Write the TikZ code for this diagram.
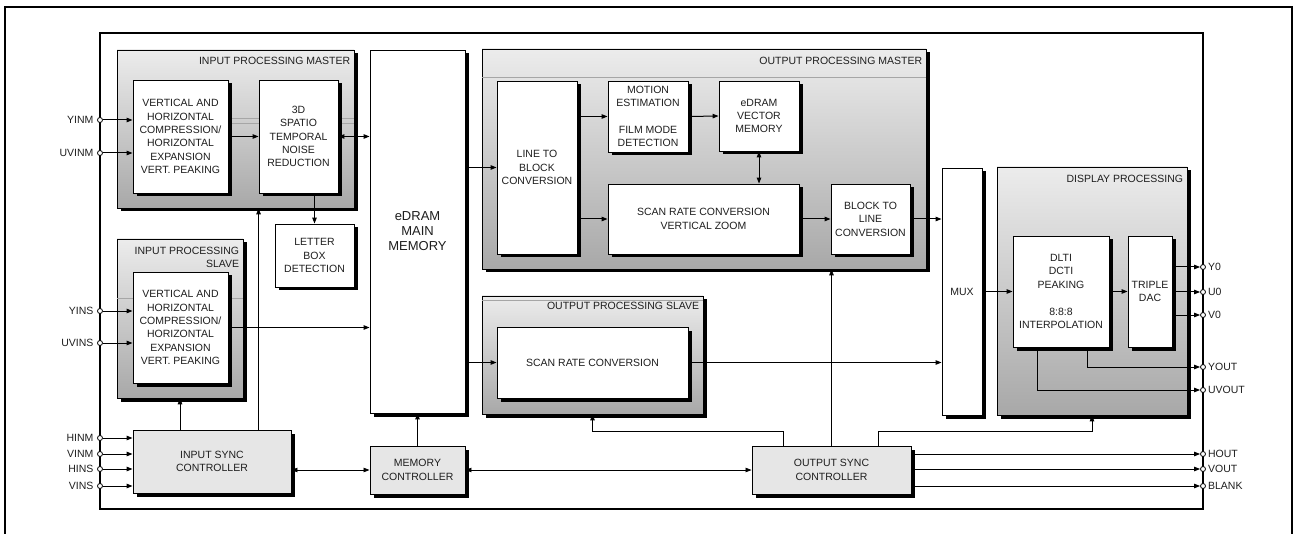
\documentclass[tikz,border=0pt]{standalone}
\usepackage{fontspec}
\setmainfont{Liberation Sans}
\usetikzlibrary{arrows.meta,shadows}
\definecolor{boxgray}{RGB}{230,230,230}
\definecolor{shadetop}{RGB}{236,236,236}
\definecolor{shadebot}{RGB}{168,168,168}
\definecolor{inkgray}{RGB}{30,30,30}

\begin{document}
\begin{tikzpicture}[x=1pt, y=-1pt,
  every node/.style={font=\fontsize{10.5}{13.4}\selectfont, text=inkgray},
  every label/.style={inner sep=1pt},
  shd/.style={drop shadow={shadow xshift=3.5pt, shadow yshift=-3.5pt, fill=black, opacity=1}},
  module/.style={draw, line width=0.7pt, top color=shadetop, bottom color=shadebot, shd, inner sep=0pt},
  unit/.style={draw, line width=0.9pt, fill=white, shd, align=center, inner sep=0pt},
  ctrl/.style={unit, fill=boxgray},
  modtitle/.style={anchor=north east, inner sep=0pt, align=right},
  io/.style={circle, draw, line width=0.8pt, fill=white, inner sep=0pt, minimum size=5pt},
  arrow/.style={-{Triangle[length=6pt, width=4.5pt]}, line width=1pt},
  darrow/.style={{Triangle[length=6pt, width=4.5pt]}-{Triangle[length=6pt, width=4.5pt]}, line width=1pt},
  seam/.style={gray!70, line width=0.4pt}
]
  \useasboundingbox (0,0) rectangle (1297,534);

  % Frames
  \draw[line width=1.4pt] (5,534) -- (5,7) -- (1292,7) -- (1292,534);
  \node[draw, line width=1.8pt, minimum width=1103pt, minimum height=476pt, inner sep=0pt] (chip) at (651.5,271) {};

  % Modules
  \node[module, minimum width=237pt, minimum height=158pt] (ipm) at (235.5,129) {};
  \node[module, minimum width=126pt, minimum height=159pt] (ips) at (180,318.5) {};
  \node[module, minimum width=444pt, minimum height=220pt] (opm) at (704,159) {};
  \node[module, minimum width=221pt, minimum height=118pt] (ops) at (592.5,355) {};
  \node[module, minimum width=190pt, minimum height=248pt] (dp) at (1092,291) {};

  \draw[seam] (230,118) -- (ipm.east |- 0,118);
  \draw[seam] (230,123) -- (ipm.east |- 0,123);
  \draw[seam] (ips.west |- 0,298) -- (ips.east |- 0,298);
  \draw[seam] (opm.west |- 0,77) -- (opm.east |- 0,77);
  \draw[seam] (ops.west |- 0,300) -- (ops.east |- 0,300);

  \node[modtitle] (ipmT) at ([xshift=-4pt, yshift=-7pt]ipm.north east) {INPUT PROCESSING MASTER};
  \node[modtitle] (ipsT) at ([xshift=-4pt, yshift=-8pt]ips.north east) {INPUT PROCESSING\\SLAVE};
  \node[modtitle] (opmT) at ([xshift=-4pt, yshift=-8pt]opm.north east) {OUTPUT PROCESSING MASTER};
  \node[modtitle] (opsT) at ([xshift=-4pt, yshift=-6pt]ops.north east) {OUTPUT PROCESSING SLAVE};
  \node[modtitle] (dpT) at ([xshift=-4pt, yshift=-8pt]dp.north east) {DISPLAY PROCESSING};

  % Input side
  \node[unit, minimum width=95pt, minimum height=113pt] (vhm) at (180.5,136.5) {VERTICAL AND\\HORIZONTAL\\COMPRESSION/\\HORIZONTAL\\EXPANSION\\VERT. PEAKING};
  \node[unit, minimum width=79pt, minimum height=113pt] (nr) at (298.5,136.5) {3D\\SPATIO\\TEMPORAL\\NOISE\\REDUCTION};
  \node[unit, minimum width=79pt, minimum height=63pt] (lbd) at (314.5,255.5) {LETTER\\BOX\\DETECTION};
  \node[unit, minimum width=95pt, minimum height=111pt] (vhs) at (180.5,327.5) {VERTICAL AND\\HORIZONTAL\\COMPRESSION/\\HORIZONTAL\\EXPANSION\\VERT. PEAKING};
  \node[ctrl, minimum width=158pt, minimum height=63pt] (isc) at (212,461.5) {INPUT SYNC\\CONTROLLER};

  % Memory
  \node[unit, minimum width=95pt, minimum height=363pt, font=\fontsize{13}{15}\selectfont] (edram) at (417.5,231.5) {eDRAM\\MAIN\\MEMORY};
  \node[ctrl, minimum width=95pt, minimum height=48pt] (mc) at (417.5,470) {MEMORY\\CONTROLLER};

  % Output side
  \node[unit, minimum width=80pt, minimum height=173pt] (ltb) at (537,167.5) {LINE TO\\BLOCK\\CONVERSION};
  \node[unit, minimum width=80pt, minimum height=71pt] (me) at (648,116.5) {MOTION\\ESTIMATION\\[13.4pt]FILM MODE\\DETECTION};
  \node[unit, minimum width=80pt, minimum height=70pt] (evm) at (759,116) {eDRAM\\VECTOR\\MEMORY};
  \node[unit, minimum width=191pt, minimum height=70pt] (src) at (703.5,219) {SCAN RATE CONVERSION\\VERTICAL ZOOM};
  \node[unit, minimum width=79pt, minimum height=70pt] (btl) at (870.5,219) {BLOCK TO\\LINE\\CONVERSION};
  \node[unit, minimum width=191pt, minimum height=71pt] (srcs) at (592.5,362.5) {SCAN RATE CONVERSION};
  \node[ctrl, minimum width=159pt, minimum height=48pt] (osc) at (831.5,470) {OUTPUT SYNC\\CONTROLLER};

  % Display
  \node[unit, minimum width=40pt, minimum height=247pt] (mux) at (962,291.5) {MUX};
  \node[unit, minimum width=96pt, minimum height=111pt] (dlti) at (1061,291.5) {DLTI\\DCTI\\PEAKING\\[13.4pt]8:8:8\\INTERPOLATION};
  \node[unit, minimum width=44pt, minimum height=111pt] (dac) at (1150,291.5) {TRIPLE\\DAC};

  % Pins
  \node[io, label={[label distance=2.5pt]left:YINM}] (pyinm) at (100,120) {};
  \node[io, label={[label distance=2.5pt]left:UVINM}] (puvinm) at (100,153) {};
  \node[io, label={[label distance=2.5pt]left:YINS}] (pyins) at (100,311) {};
  \node[io, label={[label distance=2.5pt]left:UVINS}] (puvins) at (100,343) {};
  \node[io, label={[label distance=2.5pt]left:HINM}] (phinm) at (100,438) {};
  \node[io, label={[label distance=2.5pt]left:VINM}] (pvinm) at (100,454) {};
  \node[io, label={[label distance=2.5pt]left:HINS}] (phins) at (100,469) {};
  \node[io, label={[label distance=2.5pt]left:VINS}] (pvins) at (100,486) {};
  \node[io, label={[label distance=1pt]right:Y0}] (py0) at (1203,267) {};
  \node[io, label={[label distance=1pt]right:U0}] (pu0) at (1203,292) {};
  \node[io, label={[label distance=1pt]right:V0}] (pv0) at (1203,315) {};
  \node[io, label={[label distance=1pt]right:YOUT}] (pyout) at (1203,367) {};
  \node[io, label={[label distance=1pt]right:UVOUT}] (puvout) at (1203,390) {};
  \node[io, label={[label distance=1pt]right:HOUT}] (phout) at (1203,454) {};
  \node[io, label={[label distance=1pt]right:VOUT}] (pvout) at (1203,469) {};
  \node[io, label={[label distance=1pt]right:BLANK}] (pblank) at (1203,486) {};

  % Arrows
  \draw[arrow] (pyinm) -- (pyinm -| vhm.west);
  \draw[arrow] (puvinm) -- (puvinm -| vhm.west);
  \draw[arrow] (pyins) -- (pyins -| vhs.west);
  \draw[arrow] (puvins) -- (puvins -| vhs.west);
  \draw[arrow] (phinm) -- (phinm -| isc.west);
  \draw[arrow] (pvinm) -- (pvinm -| isc.west);
  \draw[arrow] (phins) -- (phins -| isc.west);
  \draw[arrow] (pvins) -- (pvins -| isc.west);
  \draw[arrow] (vhm) -- (nr);
  \draw[darrow] (nr.east) -- (nr.east -| edram.west);
  \draw[arrow] (lbd.north |- nr.south) -- (lbd.north);
  \draw[arrow] (vhs.east) -- (vhs.east -| edram.west);
  \draw[arrow] (ips.south |- isc.north) -- (ips.south);
  \draw[arrow] (isc.north -| nr.west) -- (ipm.south -| nr.west);
  \draw[darrow, line width=0.8pt] (mc.west -| isc.east) -- (mc.west);
  \draw[arrow] (mc.north) -- (edram.south);
  \draw[darrow, line width=0.8pt] (mc.east) -- (osc.west);
  \draw[arrow] (ltb.west -| edram.east) -- (ltb.west);
  \draw[arrow] (me.west -| ltb.east) -- (me.west);
  \draw[arrow] (me.east) -- (evm.west);
  \draw[arrow] (src.west -| ltb.east) -- (src.west);
  \draw[darrow] (evm.south) -- (evm.south |- src.north);
  \draw[arrow] (src.east) -- (btl.west);
  \draw[arrow] (btl.east) -- (btl.east -| mux.west);
  \draw[arrow] (srcs.west -| edram.east) -- (srcs.west);
  \draw[arrow] (srcs.east) -- (srcs.east -| mux.west);
  \draw[arrow, line width=0.8pt] (osc.north) -- (osc.north |- opm.south);
  \draw[arrow, line width=0.8pt] ([xshift=-48.5pt]osc.north) |- ([yshift=-17pt]ops.south) -- (ops.south);
  \draw[arrow, line width=0.8pt] ([xshift=46.5pt]osc.north) |- ([yshift=-16pt]dp.south) -- (dp.south);
  \draw[arrow] (dlti.west -| mux.east) -- (dlti.west);
  \draw[arrow] (dlti.east) -- (dac.west);
  \draw[arrow] (py0 -| dac.east) -- (py0);
  \draw[arrow] (pu0 -| dac.east) -- (pu0);
  \draw[arrow] (pv0 -| dac.east) -- (pv0);
  \draw[arrow] ([xshift=26pt]dlti.south) |- (pyout);
  \draw[arrow] ([xshift=-24pt]dlti.south) |- (puvout);
  \draw[arrow] (phout -| osc.east) -- (phout);
  \draw[arrow] (pvout -| osc.east) -- (pvout);
  \draw[arrow] (pblank -| osc.east) -- (pblank);
\end{tikzpicture}
\end{document}
